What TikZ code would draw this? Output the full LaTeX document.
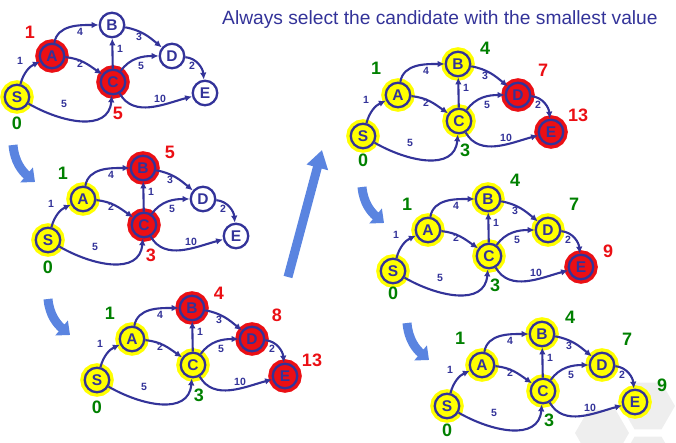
\documentclass[tikz,border=0pt]{standalone}
\usepackage{fontspec}
\setmainfont{Liberation Sans}
\usetikzlibrary{arrows.meta,calc}
\definecolor{navy}{RGB}{51,51,153}
\definecolor{yel}{RGB}{255,255,0}
\definecolor{rd}{RGB}{235,15,20}
\definecolor{grn}{RGB}{0,128,0}
\definecolor{barc}{RGB}{90,132,224}
\definecolor{hexc}{RGB}{238,238,238}
\newcommand\nfont{\fontsize{15.5}{15.5}\selectfont\bfseries}
\newcommand\wfont{\fontsize{10.5}{10.5}\selectfont\bfseries}
\newcommand\vfont{\fontsize{18}{18}\selectfont\bfseries}
\newcommand\tfont{\fontsize{19.2}{22}\selectfont}
\tikzset{
  nbase/.style={circle, minimum size=24.5pt, inner sep=0pt, line width=2.3pt, draw=navy, text=navy, font=\nfont},
  wnode/.style={nbase, fill=white},
  ynode/.style={nbase, fill=yel, preaction={draw=yel, line width=9pt}},
  rnode/.style={nbase, fill=rd, preaction={draw=rd, line width=9pt}},
  edge/.style={draw=navy, line width=2.1pt, -{Latex[length=7pt,width=6.5pt]}},
  wlab/.style={font=\wfont, text=navy, inner sep=0pt},
  vlab/.style={font=\vfont, inner sep=0pt},
  barrow/.style={draw=barc, line width=9pt, -{Triangle[length=11pt,width=19pt]}},
  bigarrow/.style={draw=barc, line width=9pt, -{Triangle[length=18pt,width=21pt]}},
  hexa/.style={fill=hexc, draw=none},
}
% #1 prefix, #2 shift, #3..#8 styles of S A B C D E
\newcommand\dgraph[8]{%
  \begin{scope}[shift={#2}]
    \node[#3] (#1S) at (0,0) {S};
    \node[#4] (#1A) at (35,41) {A};
    \node[#5] (#1B) at (95,72) {B};
    \node[#6] (#1C) at (96,15) {C};
    \node[#7] (#1D) at (155,41) {D};
    \node[#8] (#1E) at (188,4) {E};
    \draw[edge] (#1S) to[out=75,in=205] (#1A);
    \draw[edge] (#1A) to[out=80,in=180] (#1B);
    \draw[edge] (#1A) to[out=-5,in=145] (#1C);
    \draw[edge] (#1C) -- (#1B);
    \draw[edge] (#1B) to[out=-10,in=140] (#1D);
    \draw[edge] (#1C) to[out=55,in=180] (#1D);
    \draw[edge] (#1D) to[out=-5,in=95] (#1E);
    \draw[edge] (#1C) to[out=-60,in=195] (#1E);
    \draw[edge] (#1S) to[out=-30,in=-95,looseness=1.15] (#1C);
    \node[wlab] (#1wSA) at (3,36) {1};
    \node[wlab] (#1wAB) at (63,65) {4};
    \node[wlab] (#1wAC) at (63,33) {2};
    \node[wlab] (#1wBD) at (122,60) {3};
    \node[wlab] (#1wCB) at (103,48) {1};
    \node[wlab] (#1wCD) at (124,31) {5};
    \node[wlab] (#1wDE) at (175,31) {2};
    \node[wlab] (#1wCE) at (143,-2) {10};
    \node[wlab] (#1wSC) at (47,-7) {5};
  \end{scope}}
% value label: #1 name, #2 shift, #3 position, #4 colour, #5 text
\newcommand\vl[5]{\node[vlab, text=#4] (#1) at ($#2+#3$) {#5};}
\begin{document}
\begin{tikzpicture}[x=1pt,y=1pt]
\useasboundingbox (0,0) rectangle (676,-443);
% background hexagons
\foreach \cx/\cy [count=\i] in {648/-406, 602/-433, 648/-460}{
  \fill[hexa] (\cx,\cy) +(0:27) -- +(60:27) -- +(120:27) -- +(180:27) -- +(240:27) -- +(300:27) -- cycle;
}
% title
\node[anchor=base west, inner sep=0pt, font=\tfont, text=navy] (title) at (222,-25) {Always select the candidate with the smallest value};
% graphs
\dgraph{a}{(17,-97)}{ynode}{rnode}{wnode}{rnode}{wnode}{wnode}
\dgraph{b}{(48,-240)}{ynode}{ynode}{rnode}{rnode}{wnode}{wnode}
\dgraph{c}{(97,-380)}{ynode}{ynode}{rnode}{ynode}{rnode}{rnode}
\dgraph{d}{(363,-136)}{ynode}{ynode}{ynode}{ynode}{rnode}{rnode}
\dgraph{e}{(393,-271)}{ynode}{ynode}{ynode}{ynode}{ynode}{rnode}
\dgraph{f}{(447,-406)}{ynode}{ynode}{ynode}{ynode}{ynode}{ynode}
% value labels
\vl{avA}{(17,-97)}{(13,65)}{rd}{1}
\vl{avS}{(17,-97)}{(0,-26)}{grn}{0}
\vl{avC}{(17,-97)}{(101,-16)}{rd}{5}
\vl{bvA}{(48,-240)}{(15,67)}{grn}{1}
\vl{bvS}{(48,-240)}{(0,-27)}{grn}{0}
\vl{bvB}{(48,-240)}{(122,88)}{rd}{5}
\vl{bvC}{(48,-240)}{(103,-15)}{rd}{3}
\vl{cvA}{(97,-380)}{(13,67)}{grn}{1}
\vl{cvS}{(97,-380)}{(0,-27)}{grn}{0}
\vl{cvB}{(97,-380)}{(122,87)}{rd}{4}
\vl{cvD}{(97,-380)}{(180,65)}{rd}{8}
\vl{cvE}{(97,-380)}{(215,20)}{rd}{13}
\vl{cvC}{(97,-380)}{(102,-15)}{grn}{3}
\vl{dvA}{(363,-136)}{(13,68)}{grn}{1}
\vl{dvS}{(363,-136)}{(0,-24)}{grn}{0}
\vl{dvB}{(363,-136)}{(122,88)}{grn}{4}
\vl{dvD}{(363,-136)}{(180,66)}{rd}{7}
\vl{dvE}{(363,-136)}{(215,21)}{rd}{13}
\vl{dvC}{(363,-136)}{(102,-14)}{grn}{3}
\vl{evA}{(393,-271)}{(14,67)}{grn}{1}
\vl{evS}{(393,-271)}{(0,-22)}{grn}{0}
\vl{evB}{(393,-271)}{(122,91)}{grn}{4}
\vl{evD}{(393,-271)}{(181,67)}{grn}{7}
\vl{evE}{(393,-271)}{(215,20)}{rd}{9}
\vl{evC}{(393,-271)}{(102,-14)}{grn}{3}
\vl{fvA}{(447,-406)}{(13,68)}{grn}{1}
\vl{fvS}{(447,-406)}{(0,-24)}{grn}{0}
\vl{fvB}{(447,-406)}{(123,89)}{grn}{4}
\vl{fvD}{(447,-406)}{(180,67)}{grn}{7}
\vl{fvE}{(447,-406)}{(215,21)}{grn}{9}
\vl{fvC}{(447,-406)}{(102,-14)}{grn}{3}
% blue step arrows
\coordinate (p1s) at (13,-145); \coordinate (p1e) at (35,-182);
\coordinate (p2s) at (48,-299); \coordinate (p2e) at (70,-335);
\coordinate (p4s) at (362,-187); \coordinate (p4e) at (384,-223);
\coordinate (p5s) at (407,-323); \coordinate (p5e) at (429,-360);
\coordinate (p3s) at (288,-277); \coordinate (p3e) at (322,-150);
\draw[barrow] (p1s) to[out=-85,in=140] (p1e);
\draw[barrow] (p2s) to[out=-85,in=140] (p2e);
\draw[barrow] (p4s) to[out=-85,in=140] (p4e);
\draw[barrow] (p5s) to[out=-85,in=140] (p5e);
\draw[bigarrow] (p3s) -- (p3e);
\end{tikzpicture}
\end{document}
